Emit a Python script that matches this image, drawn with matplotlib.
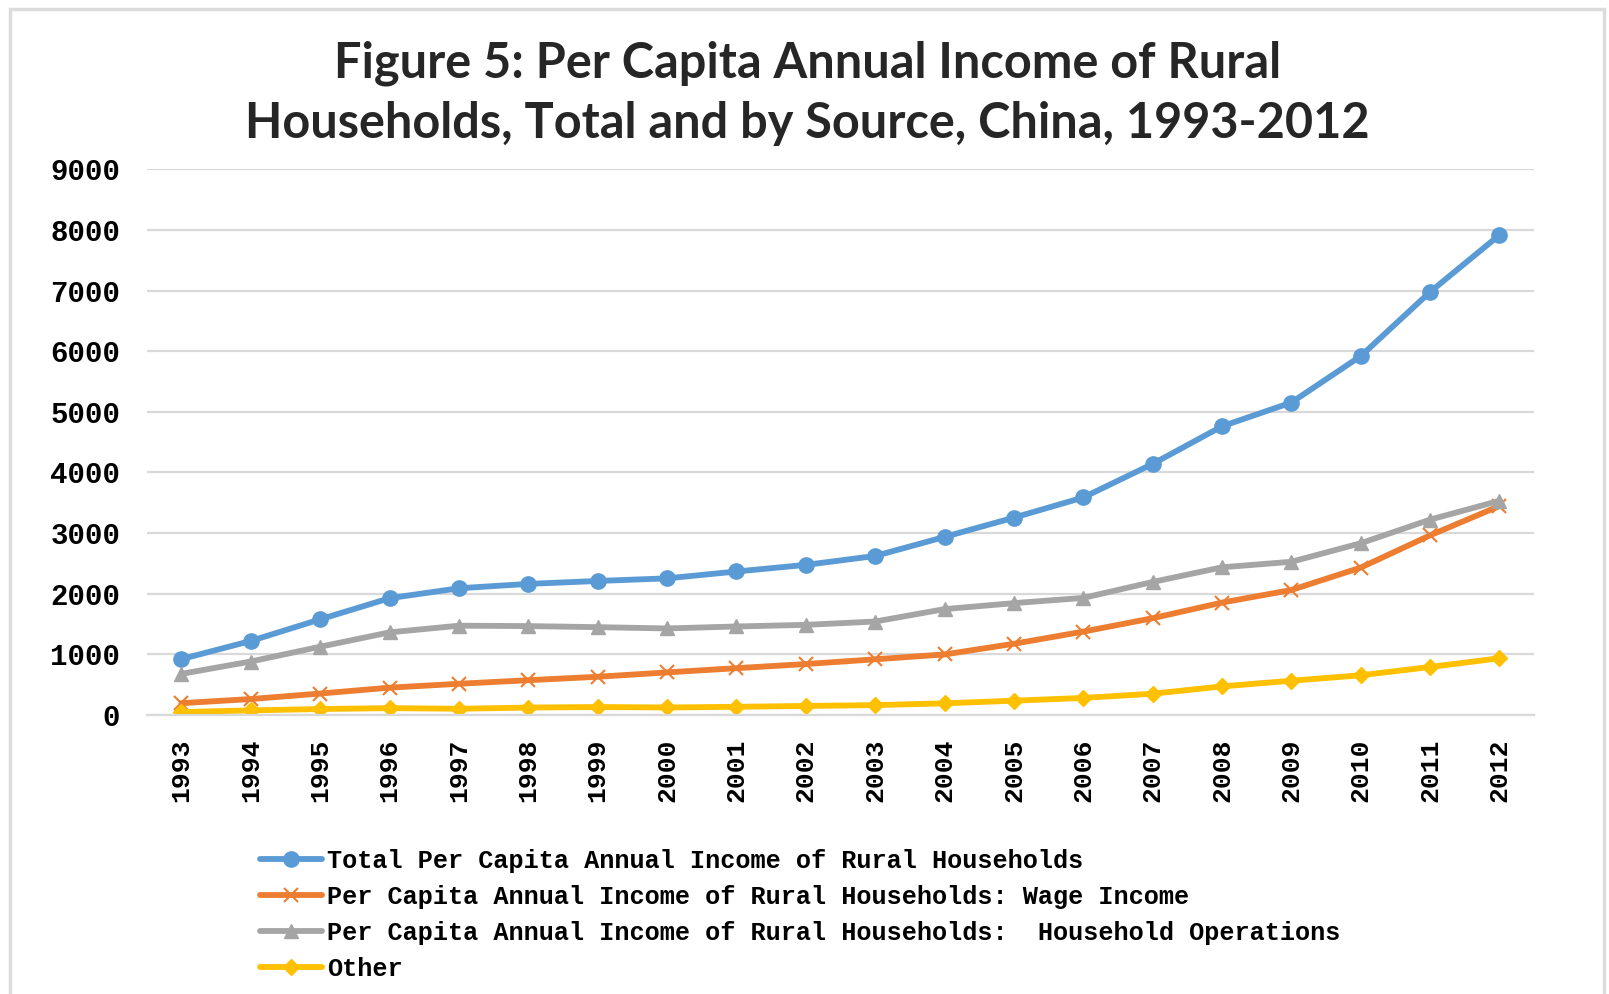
import matplotlib
import matplotlib.pyplot as plt
from matplotlib.patches import Rectangle

matplotlib.use("Agg")

FIG_W, FIG_H, DPI = 16.09, 9.94, 100

# Per capita annual income of rural households, yuan
years = ["1993", "1994", "1995", "1996", "1997", "1998", "1999", "2000", "2001", "2002",
         "2003", "2004", "2005", "2006", "2007", "2008", "2009", "2010", "2011", "2012"]
total = [921.6, 1221.0, 1577.7, 1926.1, 2090.1, 2162.0, 2210.3, 2253.4, 2366.4, 2475.6,
         2622.2, 2936.4, 3254.9, 3587.0, 4140.4, 4760.6, 5153.2, 5919.0, 6977.3, 7916.6]
wage = [194.5, 263.0, 353.7, 450.8, 514.6, 573.6, 630.3, 702.3, 771.9, 840.2,
        918.4, 998.5, 1174.5, 1374.8, 1596.2, 1853.7, 2061.3, 2431.1, 2963.4, 3447.5]
operations = [678.5, 881.9, 1125.8, 1362.5, 1472.7, 1466.0, 1448.4, 1427.3, 1459.6, 1486.5,
              1541.3, 1745.8, 1844.5, 1931.0, 2193.7, 2435.6, 2526.8, 2832.8, 3222.0, 3533.4]
other = [48.6, 76.1, 98.2, 112.8, 102.8, 122.4, 131.6, 123.8, 134.9, 148.9,
         162.5, 192.1, 235.9, 281.2, 350.5, 471.3, 565.1, 655.1, 791.9, 935.7]

labels = [
    "Total Per Capita Annual Income of Rural Households",
    "Per Capita Annual Income of Rural Households: Wage Income",
    "Per Capita Annual Income of Rural Households:  Household Operations",
    "Other",
]
yticks = [0, 1000, 2000, 3000, 4000, 5000, 6000, 7000, 8000, 9000]

TITLE_LINES = ["Figure 5: Per Capita Annual Income of Rural",
               "Households, Total and by Source, China, 1993-2012"]

MONO = ["Liberation Mono", "DejaVu Sans Mono"]

fig = plt.figure(figsize=(FIG_W, FIG_H), dpi=DPI)
ax = fig.add_axes([0.0912, 0.2807, 0.8623, 0.549])

x = list(range(len(years)))
series = [
    (total, "#5B9BD5", "o", 11),
    (wage, "#ED7D31", "x", 10),
    (operations, "#A5A5A5", "^", 10),
    (other, "#FFC000", "D", 8),
]
for (vals, col, mk, ms), lab in zip(series, labels):
    ax.plot(x, vals, color=col, lw=4.2, marker=mk, markersize=ms,
            markeredgewidth=1.5 if mk == "x" else 1, label=lab,
            solid_capstyle="round")

ax.set_xlim(-0.5, len(years) - 0.5)
ax.set_ylim(0, 9000)
ax.set_yticks(yticks)
ax.set_yticklabels([str(v) for v in yticks], family=MONO, fontweight="bold", fontsize=21)
ax.set_xticks(x)
ax.set_xticklabels(years, family=MONO, fontweight="bold", fontsize=19, rotation=90)
ax.tick_params(axis="y", length=0, pad=19)
ax.tick_params(axis="x", length=0, pad=17)

ax.grid(axis="y", color="#D9D9D9", lw=1.6)
ax.set_axisbelow(True)
for side in ["top", "right", "left"]:
    ax.spines[side].set_visible(False)
ax.spines["bottom"].set_color("#D9D9D9")
ax.spines["bottom"].set_linewidth(1.6)

# two-line title, each line placed on its own
for line, ypos in zip(TITLE_LINES, [0.936, 0.876]):
    fig.text(0.502, ypos, line, ha="center", va="center", family=["Lato", "DejaVu Sans"],
             fontweight="bold", fontsize=35, color="#262626")

fig.legend(loc="upper left", bbox_to_anchor=(0.154, 0.159), frameon=False,
           prop={"family": MONO, "weight": "bold", "size": 18.2},
           handlelength=2.45, handletextpad=0.2, labelspacing=0.48, borderpad=0)

# thin outer frame of the chart area
fig.patches.append(Rectangle((0.006, -0.02), 0.991, 1.011, transform=fig.transFigure,
                             fill=False, edgecolor="#DCDCDC", lw=2.5))

fig.savefig("out.png", dpi=DPI)
plt.close(fig)
